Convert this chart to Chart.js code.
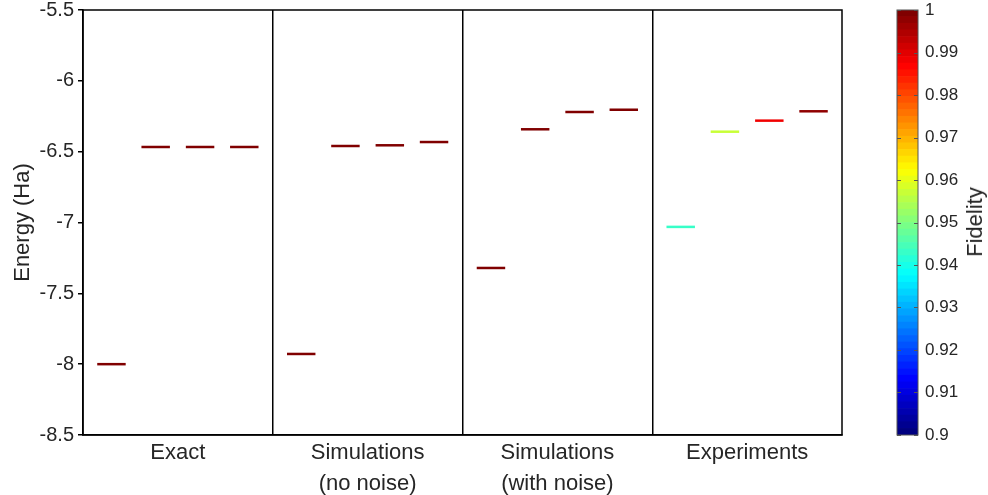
<!DOCTYPE html>
<html>
<head>
<meta charset="utf-8">
<script src="https://cdn.jsdelivr.net/npm/chart.js@4/dist/chart.umd.min.js"></script>
<style>
  body { margin: 0; background: #fff; width: 988px; height: 495px; overflow: hidden; position: relative; }
  #main { position: absolute; left: 0; top: 0; }
  #cbar { position: absolute; left: 880px; top: 0; }
  #fidLabel {
    position: absolute; left: 975px; top: 222px;
    transform: translate(-50%, -50%) rotate(-90deg);
    font: 22px "Liberation Sans", Arial, sans-serif; color: #262626; white-space: nowrap;
  }
</style>
</head>
<body>
<canvas id="main" width="880" height="495"></canvas>
<canvas id="cbar" width="108" height="495"></canvas>
<div id="fidLabel">Fidelity</div>
<script>
// data
const categories = ["Exact", ["Simulations", "(no noise)"], ["Simulations", "(with noise)"], "Experiments"];
const exactEnergy = [-8.0, -6.467, -6.467, -6.467];
const simNoNoiseEnergy = [-7.928, -6.46, -6.455, -6.432];
const simNoiseEnergy = [-7.321, -6.342, -6.22, -6.204];
const experimentEnergy = [-7.031, -6.359, -6.281, -6.215];
const exactFidelity = [1, 1, 1, 1];
const simNoNoiseFidelity = [1, 1, 1, 1];
const simNoiseFidelity = [0.999, 0.999, 0.999, 0.999];
const experimentFidelity = [0.943, 0.957, 0.988, 0.997];
const yTicks = [-8.5, -8, -7.5, -7, -6.5, -6, -5.5];
const fidelityTicks = [0.9, 0.91, 0.92, 0.93, 0.94, 0.95, 0.96, 0.97, 0.98, 0.99, 1];

const levelOffsets = [0.15, 0.383, 0.617, 0.85];
const halfWidth = 0.075;
const FONT = "'Liberation Sans', Arial, sans-serif";
const TEXT = "#262626";

// matlab-ish jet, 64 steps
function jet(f) {
  let t = (f - 0.9) / 0.1;
  t = Math.min(63, Math.floor(Math.max(0, Math.min(1, t)) * 64)) / 63;
  const c = (v) => Math.round(255 * Math.max(0, Math.min(1, v)));
  return `rgb(${c(1.5 - Math.abs(4 * t - 3))},${c(1.5 - Math.abs(4 * t - 2))},${c(1.5 - Math.abs(4 * t - 1))})`;
}

const groups = [
  [exactEnergy, exactFidelity],
  [simNoNoiseEnergy, simNoNoiseFidelity],
  [simNoiseEnergy, simNoiseFidelity],
  [experimentEnergy, experimentFidelity],
];

const datasets = [];
groups.forEach(([energies, fids], g) => {
  energies.forEach((e, i) => {
    const cx = g + levelOffsets[i];
    datasets.push({
      data: [{ x: cx - halfWidth, y: e }, { x: cx + halfWidth, y: e }],
      showLine: true,
      borderColor: jet(fids[i]),
      borderWidth: 2.5,
      pointRadius: 0,
    });
  });
});

const boxPlugin = {
  id: "box",
  afterDraw(chart, args, opts) {
    const { ctx, chartArea: a } = chart;
    ctx.save();
    ctx.strokeStyle = opts.color || "#000";
    ctx.lineWidth = opts.width || 1.5;
    ctx.strokeRect(a.left, a.top, a.right - a.left, a.bottom - a.top);
    // short inward ticks (colorbar only)
    if (opts.ticks) {
      const ys = chart.scales.y;
      ys.ticks.forEach((t) => {
        const py = Math.round(ys.getPixelForValue(t.value)) + 0.5;
        ctx.beginPath();
        ctx.moveTo(a.left, py); ctx.lineTo(a.left + 4, py);
        ctx.moveTo(a.right, py); ctx.lineTo(a.right - 4, py);
        ctx.stroke();
      });
    }
    ctx.restore();
  },
};

// keep the plot box at the same top/bottom as the reference
const fixPad = (s) => { s.paddingTop = 10; s.paddingBottom = 0; };

new Chart(document.getElementById("main"), {
  type: "scatter",
  data: { datasets },
  plugins: [boxPlugin],
  options: {
    responsive: false,
    animation: false,
    devicePixelRatio: 1,
    layout: { padding: { top: 0, right: 38, left: 0, bottom: 0 } },
    plugins: { legend: { display: false }, tooltip: { enabled: false }, box: { color: "#000", width: 1.5 } },
    scales: {
      x: {
        type: "linear",
        min: 0,
        max: 4,
        afterBuildTicks: (s) => {
          s.ticks = [0.5, 1, 1.5, 2, 2.5, 3, 3.5].map((v) => ({ value: v }));
        },
        afterFit: (s) => { s.height = 60; },
        ticks: {
          autoSkip: false,
          maxRotation: 0,
          padding: 3,
          color: TEXT,
          font: { family: FONT, size: 22, lineHeight: 1.4 },
          callback: (v) => (Number.isInteger(v) ? "" : categories[Math.floor(v)]),
        },
        grid: {
          drawTicks: false,
          lineWidth: 1.5,
          color: (c) => (c.tick && Number.isInteger(c.tick.value) ? "#000" : "rgba(0,0,0,0)"),
        },
        border: { color: "#000", width: 1.5 },
      },
      y: {
        min: -8.5,
        max: -5.5,
        afterBuildTicks: (s) => { s.ticks = yTicks.map((v) => ({ value: v })); },
        afterFit: (s) => { s.width = 83; fixPad(s); },
        ticks: { color: TEXT, padding: 4, font: { family: FONT, size: 20 }, callback: (v) => String(v) },
        grid: { drawOnChartArea: false, drawTicks: true, tickLength: 5, color: "#000", lineWidth: 1.5 },
        border: { color: "#000", width: 1.5 },
        title: { display: true, text: "Energy (Ha)", color: TEXT, font: { family: FONT, size: 22 }, padding: { top: 10, bottom: 0 } },
      },
    },
  },
});

// colorbar, 64 floating bars
const cbSteps = 64;
const cbData = [];
for (let k = 0; k < cbSteps; k++) {
  const lo = 0.9 + (0.1 * k) / cbSteps;
  const hi = 0.9 + (0.1 * (k + 1)) / cbSteps;
  cbData.push({
    data: [[lo, hi]],
    backgroundColor: jet((lo + hi) / 2),
    borderWidth: 0,
    barPercentage: 1,
    categoryPercentage: 1,
    grouped: false,
  });
}

new Chart(document.getElementById("cbar"), {
  type: "bar",
  data: { labels: [""], datasets: cbData },
  plugins: [boxPlugin],
  options: {
    responsive: false,
    animation: false,
    devicePixelRatio: 1,
    layout: { padding: { top: 0, left: 17, right: 0, bottom: 60 } },
    plugins: { legend: { display: false }, tooltip: { enabled: false }, box: { color: "#555", width: 1, ticks: true } },
    scales: {
      x: { display: false },
      y: {
        position: "right",
        min: 0.9,
        max: 1,
        afterBuildTicks: (s) => { s.ticks = fidelityTicks.map((v) => ({ value: v })); },
        afterFit: (s) => { s.width = 108 - 17 - 21; fixPad(s); },
        ticks: {
          color: TEXT,
          padding: 7,
          font: { family: FONT, size: 17 },
          callback: (v) => String(+v.toFixed(2)),
        },
        grid: { drawOnChartArea: false, drawTicks: false },
        border: { display: false },
      },
    },
  },
});
</script>
</body>
</html>
